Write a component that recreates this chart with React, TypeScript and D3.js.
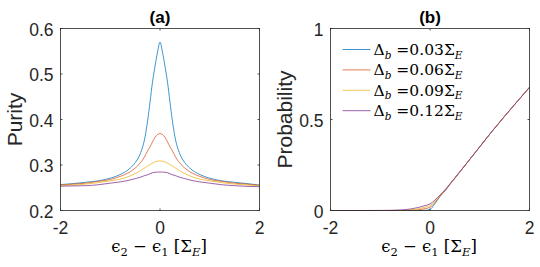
import React from 'react';
import * as d3 from 'd3';

// panel (a): purity vs detuning
const xPurity = [-2, -1.75, -1.5, -1.25, -1, -0.8, -0.6, -0.5, -0.4, -0.3, -0.25, -0.2, -0.15, -0.1, -0.05, 0,
  0.05, 0.1, 0.15, 0.2, 0.25, 0.3, 0.4, 0.5, 0.6, 0.8, 1, 1.25, 1.5, 1.75, 2];
const purity003 = [0.257, 0.259, 0.262, 0.265, 0.271, 0.279, 0.293, 0.305, 0.324, 0.362, 0.396, 0.439, 0.483, 0.517, 0.548, 0.57,
  0.548, 0.517, 0.483, 0.439, 0.396, 0.362, 0.324, 0.305, 0.293, 0.279, 0.271, 0.265, 0.262, 0.259, 0.256];
const purity006 = [0.256, 0.258, 0.26, 0.264, 0.268, 0.275, 0.285, 0.293, 0.304, 0.32, 0.331, 0.34, 0.351, 0.361, 0.367, 0.369,
  0.367, 0.361, 0.351, 0.34, 0.331, 0.32, 0.304, 0.293, 0.285, 0.275, 0.268, 0.264, 0.26, 0.258, 0.255];
const purity009 = [0.2555, 0.256, 0.258, 0.261, 0.265, 0.269, 0.276, 0.281, 0.287, 0.294, 0.298, 0.301, 0.304, 0.307, 0.3085, 0.309,
  0.3085, 0.307, 0.304, 0.301, 0.298, 0.294, 0.287, 0.281, 0.276, 0.269, 0.265, 0.261, 0.258, 0.256, 0.2545];
const purity012 = [0.2535, 0.254, 0.2545, 0.2565, 0.26, 0.263, 0.267, 0.27, 0.273, 0.277, 0.2785, 0.2808, 0.283, 0.284, 0.2844, 0.2846,
  0.2844, 0.284, 0.283, 0.2808, 0.2785, 0.277, 0.273, 0.27, 0.267, 0.263, 0.26, 0.2565, 0.2545, 0.253, 0.2523];

// panel (b): probability vs detuning
const xProb = [-2, -1.5, -1, -0.8, -0.6, -0.5, -0.4, -0.3, -0.2, -0.1, 0, 0.1, 0.2, 0.3, 0.4, 0.5, 0.6, 0.8, 1, 1.25, 1.5, 1.75, 2];
const prob003 = [0, 0, 0, 0, 0, 0, 0, 0, 0, 0.001, 0.006, 0.038, 0.076, 0.107, 0.143, 0.178, 0.212, 0.281, 0.35, 0.436, 0.518, 0.598, 0.677];
const prob006 = [0, 0, 0, 0, 0, 0, 0.001, 0.002, 0.005, 0.01, 0.018, 0.044, 0.079, 0.109, 0.144, 0.178, 0.212, 0.281, 0.35, 0.436, 0.518, 0.598, 0.677];
const prob009 = [0, 0, 0, 0, 0.0005, 0.001, 0.003, 0.006, 0.011, 0.018, 0.027, 0.05, 0.082, 0.111, 0.145, 0.179, 0.213, 0.281, 0.35, 0.436, 0.518, 0.598, 0.677];
const prob012 = [0, 0, 0.0005, 0.001, 0.003, 0.005, 0.008, 0.013, 0.019, 0.027, 0.036, 0.058, 0.085, 0.113, 0.146, 0.179, 0.213, 0.281, 0.35, 0.436, 0.518, 0.598, 0.677];

const deltaLabels = ['0.03', '0.06', '0.09', '0.12'];
const colors = ['#0072BD', '#D95319', '#EDB120', '#7E2F8E'];
const xTicks = [-2, 0, 2];
const yTicksA = [0.2, 0.3, 0.4, 0.5, 0.6];
const yTicksB = [0, 0.5, 1];

const W = 540, H = 267;
const TOP = 28.5, BOTTOM = 210.5;
const AX = '#262626';
const SANS = 'Liberation Sans, Arial, Helvetica, sans-serif';
const SERIF = 'DejaVu Serif, Liberation Serif, serif';

const XLabel = ({ x, y }) => (
  <text x={x} y={y} textAnchor="middle" fontFamily={SERIF} fontSize={16.5} fill="#000">
    <tspan>ϵ</tspan>
    <tspan dy={4} fontSize={11.5}>2</tspan>
    <tspan dy={-4}> − ϵ</tspan>
    <tspan dy={4} fontSize={11.5}>1</tspan>
    <tspan dy={-4}>  [Σ</tspan>
    <tspan dy={4} fontSize={11.5} fontStyle="italic">E</tspan>
    <tspan dy={-4}>]</tspan>
  </text>
);

function Panel({ left, right, title, ylabel, ylabelX, domainY, yTicks, xs, series, legend }) {
  const x = d3.scaleLinear().domain([-2, 2]).range([left, right]);
  const y = d3.scaleLinear().domain(domainY).range([BOTTOM, TOP]);
  const line = d3.line<[number, number]>()
    .x(d => x(d[0]))
    .y(d => y(d[1]))
    .curve(d3.curveMonotoneX);
  const cx = (left + right) / 2;
  const tl = 2;

  return (
    <g>
      {series.map((vals, i) => (
        <path key={i} d={line(xs.map((v, j) => [v, vals[j]])) || ''}
          fill="none" stroke={colors[i]} strokeWidth={0.75} />
      ))}
      <rect x={left} y={TOP} width={right - left} height={BOTTOM - TOP} fill="none" stroke={AX} strokeWidth={0.8} />
      {xTicks.map(t => (
        <g key={'x' + t}>
          <line x1={x(t)} x2={x(t)} y1={BOTTOM} y2={BOTTOM - tl} stroke={AX} strokeWidth={0.8} />
          <line x1={x(t)} x2={x(t)} y1={TOP} y2={TOP + tl} stroke={AX} strokeWidth={0.8} />
          <text x={x(t)} y={BOTTOM + 23.5} textAnchor="middle" fontFamily={SANS} fontSize={17.5} fill="#262626">{String(t)}</text>
        </g>
      ))}
      {yTicks.map(t => (
        <g key={'y' + t}>
          <line x1={left} x2={left + tl} y1={y(t)} y2={y(t)} stroke={AX} strokeWidth={0.8} />
          <line x1={right} x2={right - tl} y1={y(t)} y2={y(t)} stroke={AX} strokeWidth={0.8} />
          <text x={left - 7} y={y(t)} dy="0.4em" textAnchor="end" fontFamily={SANS} fontSize={17.5} fill="#262626">{String(t)}</text>
        </g>
      ))}
      <text x={cx} y={23} textAnchor="middle" fontFamily={SANS} fontWeight="bold" fontSize={17} fill="#000">{title}</text>
      <text transform={`translate(${ylabelX},${(TOP + BOTTOM) / 2}) rotate(-90)`} textAnchor="middle"
        fontFamily={SANS} fontSize={21} fill="#262626">{ylabel}</text>
      <XLabel x={cx - 1} y={252} />
      {legend && deltaLabels.map((lab, i) => {
        const ly = 49.5 + i * 20.4;
        return (
          <g key={lab}>
            <line x1={left + 12} x2={left + 40} y1={ly} y2={ly} stroke={colors[i]} strokeWidth={0.75} />
            <text x={left + 43} y={ly + 5.5} fontFamily={SERIF} fontSize={15.5} fill="#000">
              <tspan>Δ</tspan>
              <tspan dy={3.5} fontSize={10.5} fontStyle="italic">b</tspan>
              <tspan dy={-3.5}> =0.{lab.slice(2)}Σ</tspan>
              <tspan dy={3.5} fontSize={10.5} fontStyle="italic">E</tspan>
            </text>
          </g>
        );
      })}
    </g>
  );
}

export default function App() {
  return (
    <svg width={W} height={H} style={{ position: 'absolute', left: 0, top: 0, background: '#fff' }}>
      <rect width={W} height={H} fill="#fff" />
      <Panel left={60.5} right={259.5} title="(a)" ylabel="Purity" ylabelX={22} domainY={[0.2, 0.6]}
        yTicks={yTicksA} xs={xPurity} series={[purity003, purity006, purity009, purity012]} legend={false} />
      <Panel left={330.5} right={529.5} title="(b)" ylabel="Probability" ylabelX={292} domainY={[0, 1]}
        yTicks={yTicksB} xs={xProb} series={[prob003, prob006, prob009, prob012]} legend={true} />
    </svg>
  );
}
